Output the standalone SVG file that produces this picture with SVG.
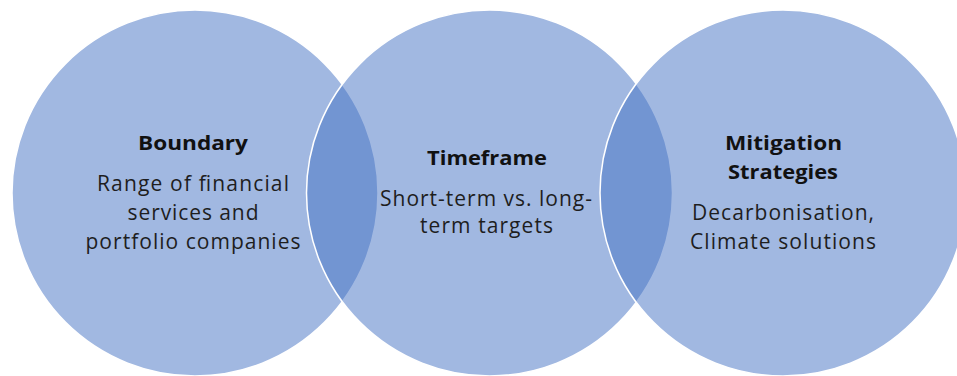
<svg xmlns="http://www.w3.org/2000/svg" width="957" height="376" viewBox="0 0 957 376">
<style>
.c{fill:#4472C4;fill-opacity:0.5;stroke:#ffffff;stroke-width:1.5}
.h{font-family:"Open Sans","Noto Sans","Liberation Sans",sans-serif;font-weight:700;font-size:19px;fill:#111111;text-anchor:middle}
.t{font-family:"Open Sans","Noto Sans","Liberation Sans",sans-serif;font-size:21px;fill:#1e1e1e;text-anchor:middle}
</style>
<rect width="957" height="376" fill="#ffffff"/>
<g id="boundary">
<circle class="c" cx="195" cy="193" r="183"/>
<text class="h" x="193" y="150" textLength="110" lengthAdjust="spacingAndGlyphs">Boundary</text>
<text class="t" x="193" y="191" textLength="192">Range of financial</text>
<text class="t" x="193" y="220" textLength="131">services and</text>
<text class="t" x="193" y="249" textLength="215">portfolio companies</text>
</g>
<g id="timeframe">
<circle class="c" cx="489.5" cy="193" r="183"/>
<text class="h" x="487" y="165" textLength="120" lengthAdjust="spacingAndGlyphs">Timeframe</text>
<text class="t" x="486" y="206" textLength="212">Short-term vs. long-</text>
<text class="t" x="486.5" y="233" textLength="133">term targets</text>
</g>
<g id="mitigation">
<circle class="c" cx="783" cy="193" r="183"/>
<text class="h" x="783.5" y="150" textLength="117" lengthAdjust="spacingAndGlyphs">Mitigation</text>
<text class="h" x="783" y="179" textLength="110" lengthAdjust="spacingAndGlyphs">Strategies</text>
<text class="t" x="783" y="220" textLength="182">Decarbonisation,</text>
<text class="t" x="783" y="249" textLength="186">Climate solutions</text>
</g>
<g id="connectors"/>
</svg>
